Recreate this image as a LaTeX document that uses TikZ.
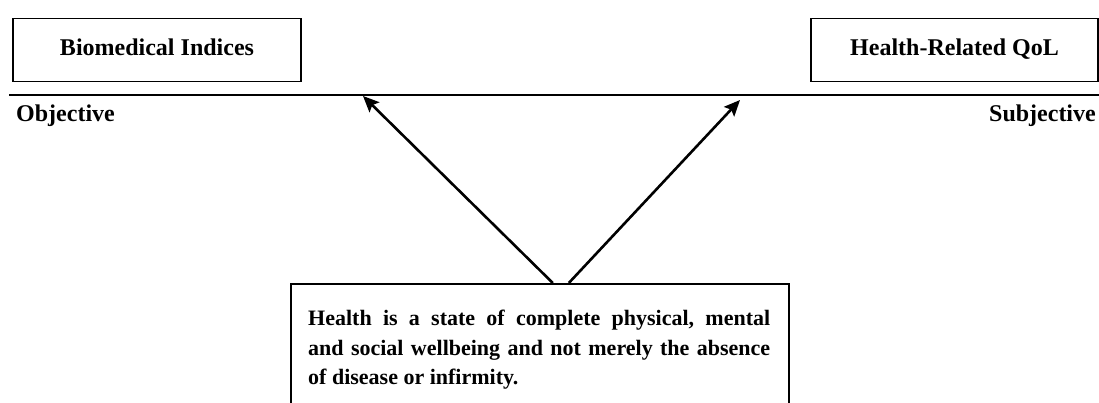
\documentclass[tikz,border=0pt]{standalone}
\usepackage{fontspec}
\setmainfont{Liberation Serif}
\usetikzlibrary{arrows.meta}
\begin{document}
\begin{tikzpicture}[x=1pt,y=-1pt,
  box/.style={draw, line width=1.6pt, inner sep=0pt},
  lbl/.style={font=\fontsize{24}{29.5}\selectfont\bfseries, inner sep=0pt},
  body/.style={font=\fontsize{22}{29.5}\selectfont\bfseries, inner sep=0pt, align=left},
  arr/.style={line width=2.6pt, -{Stealth[length=16pt,width=14pt,inset=3pt]}}]
\useasboundingbox (0,0) rectangle (1099,403);
\clip (0,0) rectangle (1099,403);
\node[box, lbl, text height=16pt, text depth=5pt, minimum width=288pt, minimum height=63pt] (bio) at (157,50) {Biomedical Indices};
\node[box, lbl, text height=16pt, text depth=5pt, minimum width=287pt, minimum height=63pt] (hrq) at (954.5,50) {Health-Related QoL};
\coordinate (ls) at (9,95);
\coordinate (le) at (1099,95);
\draw[line width=2.4pt] (ls) -- (le);
\node[lbl, anchor=west] (obj) at (16,116) {Objective};
\node[lbl, anchor=east] (subj) at (1096,116) {Subjective};
\node[box, anchor=north west, minimum width=498pt, minimum height=170pt] (health) at (290,283) {};
\node[body, anchor=north west] (def) at (308,310) {%
\hbox to 462pt{Health\hfill is\hfill a\hfill state\hfill of\hfill complete\hfill physical,\hfill mental}\\
\hbox to 462pt{and\hfill social\hfill wellbeing\hfill and\hfill not\hfill merely\hfill the\hfill absence}\\
of disease or infirmity.};
\coordinate (tipL) at (363,96);
\coordinate (tipR) at (740,100);
\draw[arr] ([xshift=13pt]health.north) -- (tipL);
\draw[arr] ([xshift=29pt]health.north) -- (tipR);
\end{tikzpicture}
\end{document}
